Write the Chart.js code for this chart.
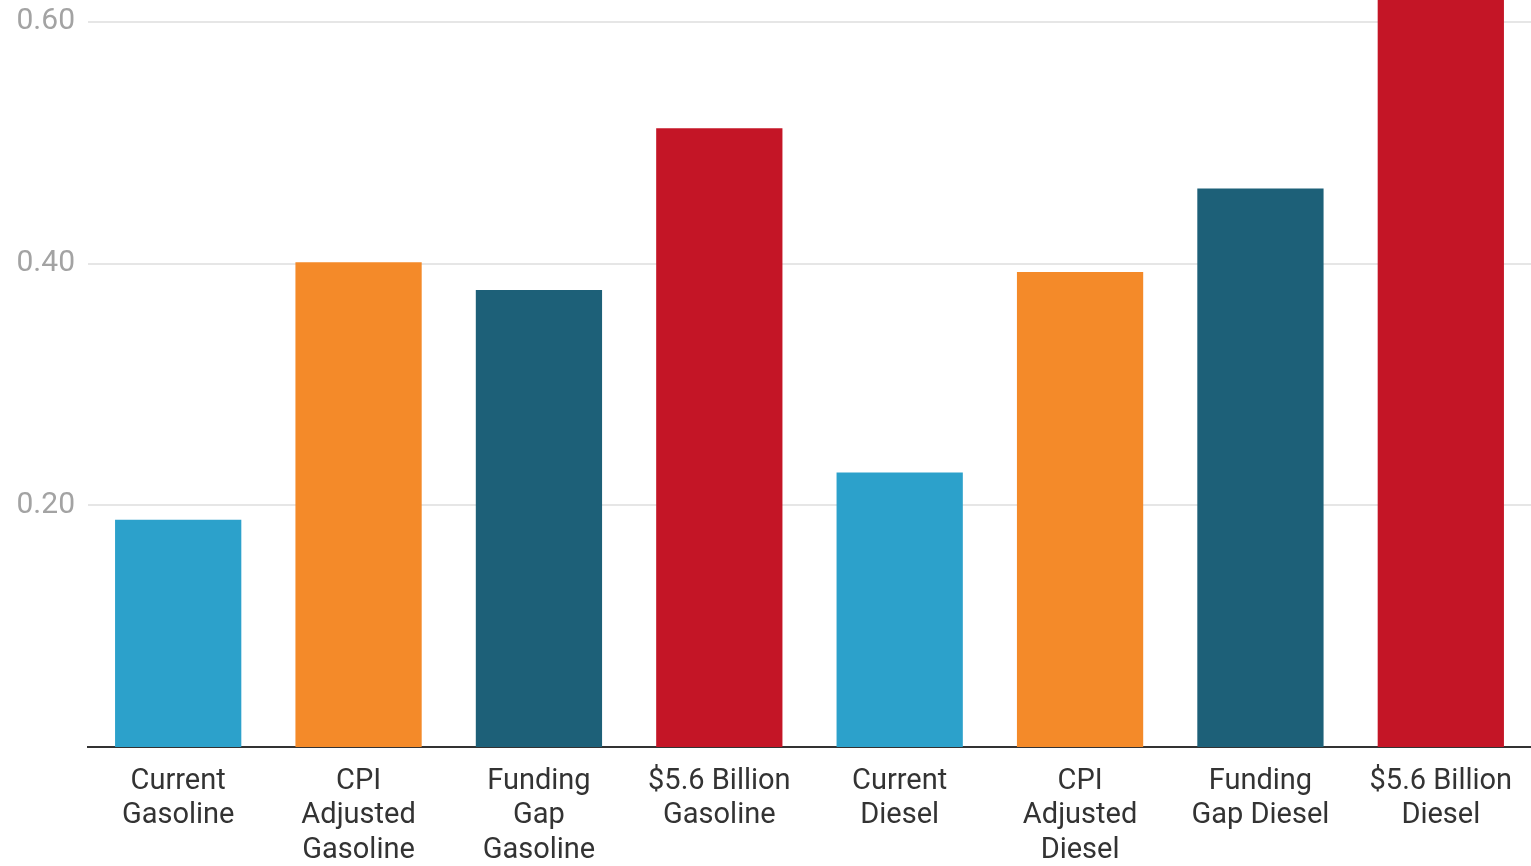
<!DOCTYPE html>
<html>
<head>
<meta charset="utf-8">
<script src="https://cdn.jsdelivr.net/npm/chart.js@4"></script>
<style>
    html, body { margin: 0; padding: 0; background: #fff; }
    #wrap { width: 1531px; height: 866px; }
</style>
</head>
<body>
<div id="wrap"><canvas id="taxChart"></canvas></div>
<script>
// data (dollars per gallon)
var categories = [
    ["Current", "Gasoline"],
    ["CPI", "Adjusted", "Gasoline"],
    ["Funding", "Gap", "Gasoline"],
    ["$5.6 Billion", "Gasoline"],
    ["Current", "Diesel"],
    ["CPI", "Adjusted", "Diesel"],
    ["Funding", "Gap Diesel"],
    ["$5.6 Billion", "Diesel"]
];
var taxValues = [0.188, 0.401, 0.378, 0.512, 0.227, 0.393, 0.462, 0.66];
var barColors = ["#2ca1cb", "#f48a29", "#1d6078", "#c41526", "#2ca1cb", "#f48a29", "#1d6078", "#c41526"];
var yTicks = [0.2, 0.4, 0.6];

document.addEventListener("DOMContentLoaded", function () {
    var ctx = document.getElementById("taxChart").getContext("2d");

    new Chart(ctx, {
        type: "bar",
        data: {
            labels: categories,
            datasets: [
                {
                    data: taxValues,
                    backgroundColor: barColors,
                    borderWidth: 0,
                    barPercentage: 0.7,
                    categoryPercentage: 1.0,
                },
            ],
        },
        options: {
            responsive: true,
            maintainAspectRatio: false,
            animation: false,
            layout: { padding: { left: 1 } },
            scales: {
                x: {
                    grid: { display: false },
                    border: { display: true, color: "#333", width: 2 },
                    ticks: {
                        color: "#333",
                        padding: 9,
                        maxRotation: 0,
                        autoSkip: false,
                        font: { family: "Roboto", size: 29, lineHeight: 1.2 },
                    },
                    afterFit: function (scale) {
                        scale.height = 119;
                        scale.paddingLeft = 0;
                        scale.paddingRight = 0;
                    },
                },
                y: {
                    min: 0,
                    max: 0.618,
                    grid: { color: "#e6e6e6", lineWidth: 2, drawTicks: false },
                    border: { display: false },
                    afterBuildTicks: function (scale) {
                        scale.ticks = yTicks.map(function (v) { return { value: v }; });
                    },
                    ticks: {
                        color: "#a3a3a3",
                        padding: 13,
                        font: { family: "Roboto", size: 30 },
                        callback: function (v) { return v.toFixed(2); },
                    },
                    afterFit: function (scale) {
                        scale.width = 87;
                        scale.paddingTop = 0;
                        scale.paddingBottom = 0;
                    },
                },
            },
            plugins: {
                legend: { display: false },
                tooltip: { enabled: false },
            },
        },
    });
});
</script>
</body>
</html>
